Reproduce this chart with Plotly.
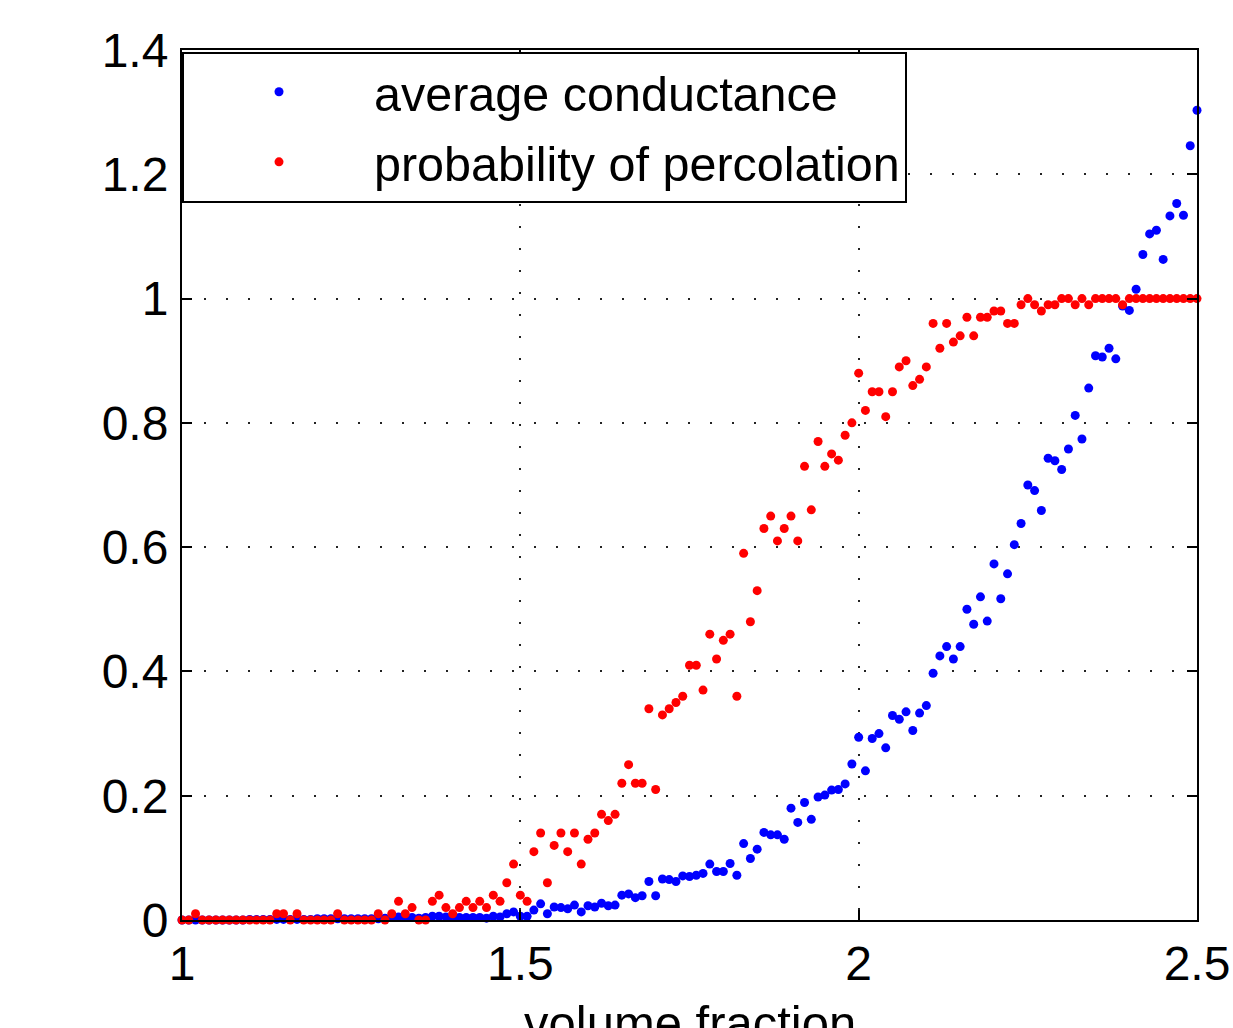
import plotly.graph_objects as go

# volume fraction grid: 1.00 .. 2.50 in steps of 0.01
x_start = 1.0
x_step = 0.01
n_points = 151
volume_fraction = [round(x_start + x_step * k, 2) for k in range(n_points)]

average_conductance = [
    0.0, 0.0, 0.0, 0.0, 0.0, 0.0, 0.0, 0.0, 0.0, 0.0,
    0.001, 0.001, 0.001, 0.001, 0.001, 0.001, 0.001, 0.001, 0.001, 0.001,
    0.002, 0.002, 0.002, 0.002, 0.002, 0.002, 0.002, 0.002, 0.002, 0.002,
    0.003, 0.004, 0.005, 0.004, 0.004, 0.003, 0.004, 0.006, 0.006, 0.005,
    0.004, 0.004, 0.004, 0.004, 0.004, 0.003, 0.006, 0.005, 0.010, 0.013,
    0.006, 0.006, 0.016, 0.026, 0.010, 0.021, 0.020, 0.018, 0.024, 0.013,
    0.023, 0.021, 0.027, 0.023, 0.024, 0.040, 0.042, 0.036, 0.039, 0.062,
    0.039, 0.066, 0.065, 0.062, 0.071, 0.070, 0.072, 0.075, 0.090, 0.078,
    0.078, 0.091, 0.072, 0.123, 0.099, 0.114, 0.141, 0.137, 0.137, 0.130,
    0.180, 0.157, 0.189, 0.162, 0.198, 0.201, 0.209, 0.210, 0.219, 0.251,
    0.294, 0.240, 0.292, 0.300, 0.277, 0.329, 0.323, 0.335, 0.305, 0.333,
    0.345, 0.397, 0.425, 0.440, 0.420, 0.440, 0.500, 0.476, 0.520, 0.481,
    0.573, 0.517, 0.557, 0.604, 0.638, 0.700, 0.691, 0.659, 0.743, 0.739,
    0.725, 0.758, 0.812, 0.774, 0.856, 0.908, 0.906, 0.920, 0.903, 0.988,
    0.981, 1.015, 1.071, 1.104, 1.110, 1.063, 1.133, 1.153, 1.134, 1.246,
    1.303,
]

probability_of_percolation = [
    0.0, 0.0, 0.01, 0.0, 0.0, 0.0, 0.0, 0.0, 0.0, 0.0,
    0.0, 0.0, 0.0, 0.0, 0.01, 0.01, 0.0, 0.01, 0.0, 0.0,
    0.0, 0.0, 0.0, 0.01, 0.0, 0.0, 0.0, 0.0, 0.0, 0.01,
    0.0, 0.01, 0.03, 0.01, 0.02, 0.0, 0.0, 0.03, 0.04, 0.02,
    0.01, 0.02, 0.03, 0.02, 0.03, 0.02, 0.04, 0.03, 0.06, 0.09,
    0.04, 0.03, 0.11, 0.14, 0.06, 0.12, 0.14, 0.11, 0.14, 0.09,
    0.13, 0.14, 0.17, 0.16, 0.17, 0.22, 0.25, 0.22, 0.22, 0.34,
    0.21, 0.33, 0.34, 0.35, 0.36, 0.41, 0.41, 0.37, 0.46, 0.42,
    0.45, 0.46, 0.36, 0.59, 0.48, 0.53, 0.63, 0.65, 0.61, 0.63,
    0.65, 0.61, 0.73, 0.66, 0.77, 0.73, 0.75, 0.74, 0.78, 0.80,
    0.88, 0.82, 0.85, 0.85, 0.81, 0.85, 0.89, 0.90, 0.86, 0.87,
    0.89, 0.96, 0.92, 0.96, 0.93, 0.94, 0.97, 0.94, 0.97, 0.97,
    0.98, 0.98, 0.96, 0.96, 0.99, 1.0, 0.99, 0.98, 0.99, 0.99,
    1.0, 1.0, 0.99, 1.0, 0.99, 1.0, 1.0, 1.0, 1.0, 0.99,
    1.0, 1.0, 1.0, 1.0, 1.0, 1.0, 1.0, 1.0, 1.0, 1.0,
    1.0,
]

x_ticks = [1, 1.5, 2, 2.5]
y_ticks = [0, 0.2, 0.4, 0.6, 0.8, 1.0, 1.2, 1.4]

FONT = "Liberation Sans, Arial, Helvetica, sans-serif"

fig = go.Figure()
fig.add_trace(go.Scatter(
    x=volume_fraction, y=average_conductance, mode="markers",
    name="average conductance", legendgroup="a",
    marker=dict(color="#0000FF", size=9, line=dict(width=0)),
    cliponaxis=False,
))
fig.add_trace(go.Scatter(
    x=volume_fraction, y=probability_of_percolation, mode="markers",
    name="probability of percolation", legendgroup="b",
    marker=dict(color="#FF0000", size=9, line=dict(width=0)),
    cliponaxis=False,
))

axis_common = dict(
    showline=True, linecolor="black", linewidth=2, mirror="allticks",
    ticks="inside", ticklen=10, tickwidth=2, tickcolor="black",
    showgrid=True, gridcolor="#222222", gridwidth=1.5, griddash="2px,20px",
    zeroline=False, automargin=False, ticklabeloverflow="allow",
    tickfont=dict(family=FONT, size=48, color="black"),
)

fig.update_xaxes(range=[1, 2.5], tickvals=x_ticks, ticklabelstandoff=0, **axis_common)
fig.update_yaxes(range=[0, 1.4], tickvals=y_ticks, ticklabelstandoff=2, **axis_common)

fig.add_annotation(
    text="volume fraction", xref="paper", yref="paper", x=0.5, y=-0.085,
    xanchor="center", yanchor="top", showarrow=False,
    font=dict(family=FONT, size=49, color="black"),
)

fig.update_layout(
    width=1233, height=1028,
    margin=dict(l=182, r=36, t=50, b=108, autoexpand=False),
    paper_bgcolor="white", plot_bgcolor="white",
    showlegend=True,
    legend=dict(
        x=0, y=0.998, xanchor="left", yanchor="top",
        bgcolor="white", bordercolor="black", borderwidth=2,
        font=dict(family=FONT, size=48.5, color="black"),
        itemwidth=180, tracegroupgap=4,
    ),
)

fig.write_html("out.html")
